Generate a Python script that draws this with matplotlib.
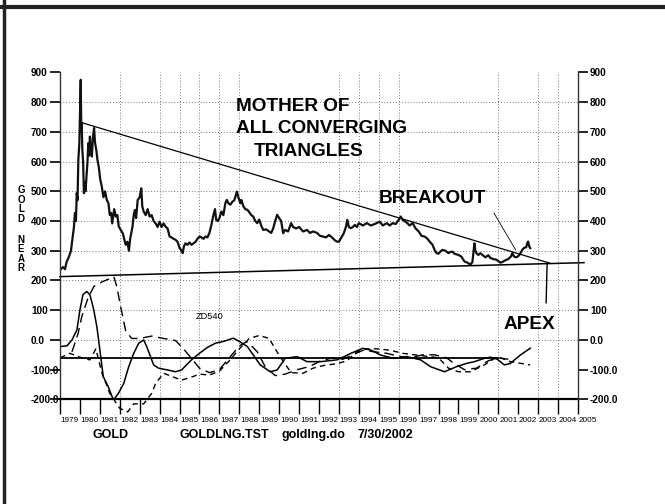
import matplotlib
matplotlib.use("Agg")
import matplotlib.pyplot as plt
from matplotlib.lines import Line2D

plt.rcParams['font.family'] = ['Liberation Sans', 'DejaVu Sans']

# gold price
gold_t = [1979.00, 1979.15, 1979.25, 1979.33, 1979.45, 1979.55, 1979.62, 1979.70, 1979.75, 1979.80,
          1979.84, 1979.88, 1979.92, 1979.97, 1980.04, 1980.07, 1980.09, 1980.12, 1980.16, 1980.20,
          1980.24, 1980.28, 1980.33, 1980.38, 1980.42, 1980.46, 1980.50, 1980.55, 1980.60, 1980.65,
          1980.71, 1980.76, 1980.82, 1980.88, 1980.95, 1981.02, 1981.10, 1981.18, 1981.26, 1981.35,
          1981.43, 1981.50, 1981.57, 1981.62, 1981.72, 1981.80, 1981.88, 1981.95, 1982.05, 1982.15,
          1982.22, 1982.30, 1982.38, 1982.46, 1982.52, 1982.58, 1982.64, 1982.70, 1982.76, 1982.82,
          1982.90, 1983.00, 1983.08, 1983.13, 1983.20, 1983.30, 1983.40, 1983.50, 1983.60, 1983.70,
          1983.80, 1983.90, 1984.00, 1984.10, 1984.20, 1984.30, 1984.40, 1984.50, 1984.60, 1984.70,
          1984.80, 1984.90, 1985.00, 1985.10, 1985.16, 1985.22, 1985.30, 1985.40, 1985.50, 1985.60,
          1985.70, 1985.80, 1985.90, 1986.00, 1986.10, 1986.20, 1986.30, 1986.40, 1986.50, 1986.60,
          1986.70, 1986.78, 1986.84, 1986.92, 1987.00, 1987.10, 1987.20, 1987.30, 1987.37, 1987.45,
          1987.55, 1987.65, 1987.75, 1987.88, 1987.95, 1988.05, 1988.10, 1988.20, 1988.30, 1988.40,
          1988.50, 1988.60, 1988.70, 1988.80, 1988.90, 1989.00, 1989.10, 1989.20, 1989.35, 1989.50,
          1989.60, 1989.70, 1989.80, 1989.90, 1990.00, 1990.10, 1990.20, 1990.30, 1990.45, 1990.60,
          1990.70, 1990.85, 1991.00, 1991.20, 1991.40, 1991.55, 1991.70, 1991.90, 1992.05, 1992.20,
          1992.35, 1992.50, 1992.65, 1992.80, 1992.90, 1993.00, 1993.10, 1993.25, 1993.35, 1993.42,
          1993.50, 1993.60, 1993.70, 1993.80, 1993.90, 1994.00, 1994.20, 1994.40, 1994.60, 1994.80,
          1995.05, 1995.20, 1995.40, 1995.55, 1995.70, 1995.85, 1996.00, 1996.10, 1996.20, 1996.40,
          1996.55, 1996.70, 1996.85, 1997.00, 1997.15, 1997.30, 1997.45, 1997.55, 1997.70, 1997.80,
          1997.90, 1998.00, 1998.10, 1998.20, 1998.35, 1998.50, 1998.60, 1998.70, 1998.80, 1999.00,
          1999.15, 1999.30, 1999.45, 1999.60, 1999.70, 1999.76, 1999.80, 1999.85, 1999.92, 2000.00,
          2000.10, 2000.20, 2000.35, 2000.50, 2000.60, 2000.75, 2000.90, 2001.00, 2001.10, 2001.20,
          2001.35, 2001.50, 2001.65, 2001.70, 2001.80, 2001.90, 2002.00, 2002.10, 2002.20, 2002.30,
          2002.40, 2002.45, 2002.50, 2002.55, 2002.60]
gold_v = [236, 245, 238, 262, 280, 300, 337, 380, 427, 400,
          494, 470, 606, 660, 875, 700, 730, 640, 600, 494,
          530, 500, 549, 600, 662, 620, 684, 640, 617, 680,
          713, 662, 640, 606, 580, 540, 515, 480, 500, 471,
          460, 420, 427, 392, 440, 415, 420, 381, 370, 359,
          340, 320, 330, 300, 340, 360, 381, 420, 437, 410,
          471, 480, 510, 449, 432, 420, 440, 415, 420, 400,
          392, 380, 398, 380, 392, 381, 375, 348, 345, 340,
          337, 330, 310, 300, 292, 315, 325, 320, 328, 320,
          325, 330, 340, 348, 345, 340, 348, 345, 360, 387,
          420, 440, 404, 400, 410, 432, 420, 460, 471, 460,
          455, 465, 470, 499, 480, 460, 471, 450, 440, 438,
          430, 420, 415, 400, 393, 405, 385, 370, 372, 365,
          360, 375, 400, 421, 410, 400, 359, 370, 365, 393,
          380, 375, 380, 365, 370, 360, 365, 360, 350, 348,
          345, 353, 345, 335, 331, 330, 342, 360, 380, 404,
          380, 376, 380, 387, 380, 393, 385, 393, 385, 390,
          398, 385, 393, 385, 393, 390, 404, 415, 404, 395,
          385, 393, 375, 365, 350, 348, 340, 331, 320, 303,
          292, 290, 298, 303, 300, 292, 296, 297, 290, 286,
          280, 264, 260, 253, 262, 300, 325, 300, 290, 286,
          292, 286, 278, 285, 276, 272, 270, 265, 260, 262,
          268, 272, 282, 292, 280, 278, 282, 290, 303, 310,
          312, 325, 331, 315, 309]

# oscillators (lower panel)
osc1_t = [1979.0, 1979.35, 1979.6, 1979.85, 1980.0, 1980.15, 1980.34, 1980.5, 1980.68, 1980.85,
          1981.0, 1981.17, 1981.42, 1981.68, 1981.93, 1982.2, 1982.45, 1982.7, 1982.95, 1983.2,
          1983.35, 1983.7, 1983.95, 1984.4, 1984.8, 1985.1, 1985.35, 1985.6, 1986.0, 1986.4,
          1986.8, 1987.2, 1987.7, 1988.0, 1988.4, 1988.8, 1989.05, 1989.55, 1989.9, 1990.3,
          1990.9, 1991.4, 1992.1, 1992.9, 1993.3, 1993.6, 1994.2, 1994.6, 1995.1, 1995.75,
          1996.4, 1997.1, 1997.6, 1998.3, 1998.9, 1999.4, 1999.8, 2000.3, 2000.6, 2000.95,
          2001.3, 2001.6, 2002.1, 2002.6]
osc1_v = [-22, -20, 0, 34, 101, 152, 163, 152, 106, 45,
          -33, -123, -157, -202, -180, -146, -90, -45, -11, 0,
          -22, -84, -95, -101, -107, -101, -84, -67, -45, -25,
          -11, -5, 6, -5, -22, -60, -84, -107, -101, -62,
          -56, -73, -73, -67, -55, -45, -28, -34, -51, -62,
          -56, -67, -90, -107, -90, -79, -73, -62, -58, -65,
          -84, -79, -51, -28]

osc2_t = [1979.6, 1979.9, 1980.1, 1980.4, 1980.7, 1981.1, 1981.45, 1981.7, 1981.85, 1982.05,
          1982.3, 1982.6, 1983.0, 1983.6, 1984.2, 1984.8, 1985.2, 1985.6, 1986.0, 1986.5,
          1987.0, 1987.5, 1988.0, 1988.4, 1988.9, 1989.3, 1989.8, 1990.3, 1990.9, 1991.5,
          1992.1, 1992.7, 1993.2, 1993.7, 1994.2, 1994.8, 1995.4, 1996.0, 1996.6, 1997.2,
          1997.8, 1998.4, 1998.8, 1999.3, 1999.9, 2000.5, 2001.0, 2001.5]
osc2_v = [-40, 20, 80, 140, 180, 195, 205, 213, 180, 110,
          30, 5, 5, 13, 5, -2, -30, -62, -95, -110,
          -100, -60, -20, -5, -40, -90, -120, -115, -100, -90,
          -70, -60, -65, -50, -35, -40, -45, -55, -60, -50,
          -50, -60, -80, -100, -95, -70, -60, -65]

osc3_t = [1979.0, 1979.5, 1980.0, 1980.5, 1980.8, 1981.1, 1981.5, 1982.0, 1982.4, 1982.7,
          1983.2, 1983.6, 1983.8, 1984.2, 1984.7, 1985.1, 1985.6, 1986.0, 1986.5, 1987.0,
          1987.5, 1988.0, 1988.5, 1989.0, 1989.5, 1989.8, 1990.1, 1990.6, 1991.2, 1991.7,
          1992.3, 1992.9, 1993.4, 1993.9, 1994.4, 1995.0, 1995.6, 1996.2, 1996.8, 1997.4,
          1998.0, 1998.5, 1999.0, 1999.6, 2000.3, 2000.95, 2001.6, 2002.6]
osc3_v = [-60, -45, -58, -67, -30, -110, -180, -230, -242, -215,
          -215, -180, -146, -112, -125, -135, -125, -115, -118, -105,
          -70, -30, 5, 15, 5, -30, -62, -110, -112, -95,
          -85, -80, -70, -40, -30, -30, -35, -45, -50, -55,
          -60, -95, -107, -107, -84, -56, -73, -84]

# triangle lines
upper_t, upper_v = [1980.04, 2003.6], [732, 258]
lower_t, lower_v = [1979.0, 2005.3], [213, 260]
apex_t, apex_v = [2003.45, 2003.4], [257, 125]
brk_t, brk_v = [2000.78, 2001.87], [427, 303]
ref_t, ref_v = [1979.0, 2001.0], [-60, -60]

years = list(range(1979, 2006))
ytick_vals = [900, 800, 700, 600, 500, 400, 300, 200, 100, 0, -100, -200]
ytick_labels = ['900', '800', '700', '600', '500', '400', '300', '200', '100', '0.0', '-100.0', '-200.0']
hgrid = [800, 700, 600, 500, 400, 300, 200, 100, 0]
vgrid = [1982, 1984, 1985, 1986, 1987, 1988, 1993, 1994, 1995, 1996, 2001, 2003, 2004]

W, H = 665, 504
fig = plt.figure(figsize=(W / 100, H / 100), dpi=100)
ax = fig.add_axes([60 / W, 1 - 399.4 / H, 518 / W, 327 / H])

def px(x, y):
    return x / W, 1 - y / H

dot = (0, (1, 2))
for v in hgrid:
    ax.axhline(v, color='#777777', lw=0.7, ls=dot, zorder=0)
for yr in vgrid:
    ax.axvline(yr, color='#777777', lw=0.7, ls=dot, zorder=0)

ax.plot(gold_t, gold_v, color='#111111', lw=1.6)
ax.plot(upper_t, upper_v, color='black', lw=0.9)
ax.plot(lower_t, lower_v, color='black', lw=1.1, clip_on=False)
ax.plot(apex_t, apex_v, color='black', lw=1.0)
ax.plot(brk_t, brk_v, color='black', lw=0.6)
ax.plot(ref_t, ref_v, color='black', lw=1.3)
ax.plot(osc1_t, osc1_v, color='black', lw=1.1)
ax.plot(osc2_t, osc2_v, color='black', lw=1.0, dashes=(7, 4))
ax.plot(osc3_t, osc3_v, color='black', lw=1.0, dashes=(4, 3), clip_on=False)

ax.set_xlim(1979, 2005)
ax.set_ylim(-200, 900)
ax.spines['top'].set_visible(False)
ax.spines['right'].set_visible(False)
ax.spines['bottom'].set_linewidth(1.6)
ax.spines['left'].set_linewidth(1.0)
ax.spines['left'].set_color('#333333')

ax.set_xticks(years)
ax.tick_params(axis='x', direction='out', length=10.8, width=1.0, labelbottom=False)
for yr in years:
    ax.text(yr + 0.5, -0.066, str(yr), transform=ax.get_xaxis_transform(),
            ha='center', va='center', fontsize=5.9, clip_on=False)

ax.set_yticks(ytick_vals)
ax.set_yticklabels(ytick_labels, ha='left', fontsize=7.2, fontweight='bold')
ax.tick_params(axis='y', direction='out', length=7.2, width=1.2, pad=13.7)

ax2 = ax.twinx()
ax2.set_ylim(-200, 900)
ax2.set_yticks(ytick_vals)
ax2.set_yticklabels(ytick_labels, fontsize=7.2, fontweight='bold')
ax2.tick_params(axis='y', direction='out', length=7.2, width=1.2, pad=1.4)
for s in ['top', 'left', 'bottom']:
    ax2.spines[s].set_visible(False)
ax2.spines['right'].set_linewidth(1.0)
ax2.spines['right'].set_color('#333333')

big = dict(fontsize=13.7, fontweight='bold', va='baseline', ha='left')
ax.text(1987.84, 771, 'MOTHER OF', **big)
ax.text(1987.84, 697, 'ALL CONVERGING', **big)
ax.text(1988.70, 620, 'TRIANGLES', **big)
ax.text(1994.98, 461, 'BREAKOUT', **big)
ax.text(2001.26, 37, 'APEX', **big)
ax.text(1985.83, 71, 'ZD540', fontsize=6.7, va='baseline', ha='left')

for i, ch in enumerate('GOLD'):
    fig.text(*px(21, 190 + 9.6 * i), ch, fontsize=7, fontweight='bold', ha='center', va='center')
for i, ch in enumerate('NEAR'):
    fig.text(*px(21, 240 + 9.4 * i), ch, fontsize=7, fontweight='bold', ha='center', va='center')

foot = dict(fontsize=9, fontweight='bold', va='baseline', ha='left')
fig.text(*px(93, 438), 'GOLD', **foot)
fig.text(*px(180, 438), 'GOLDLNG.TST', **foot)
fig.text(*px(281, 438), 'goldlng.do', **foot)
fig.text(*px(357, 438), '7/30/2002', **foot)

fig.add_artist(Line2D([3.5 / W, 3.5 / W], [0, 1], color='#222222', lw=2.5, transform=fig.transFigure))
fig.add_artist(Line2D([0, 1], [1 - 7 / H, 1 - 7 / H], color='#222222', lw=3.0, transform=fig.transFigure))

fig.savefig('out.png', dpi=100)
